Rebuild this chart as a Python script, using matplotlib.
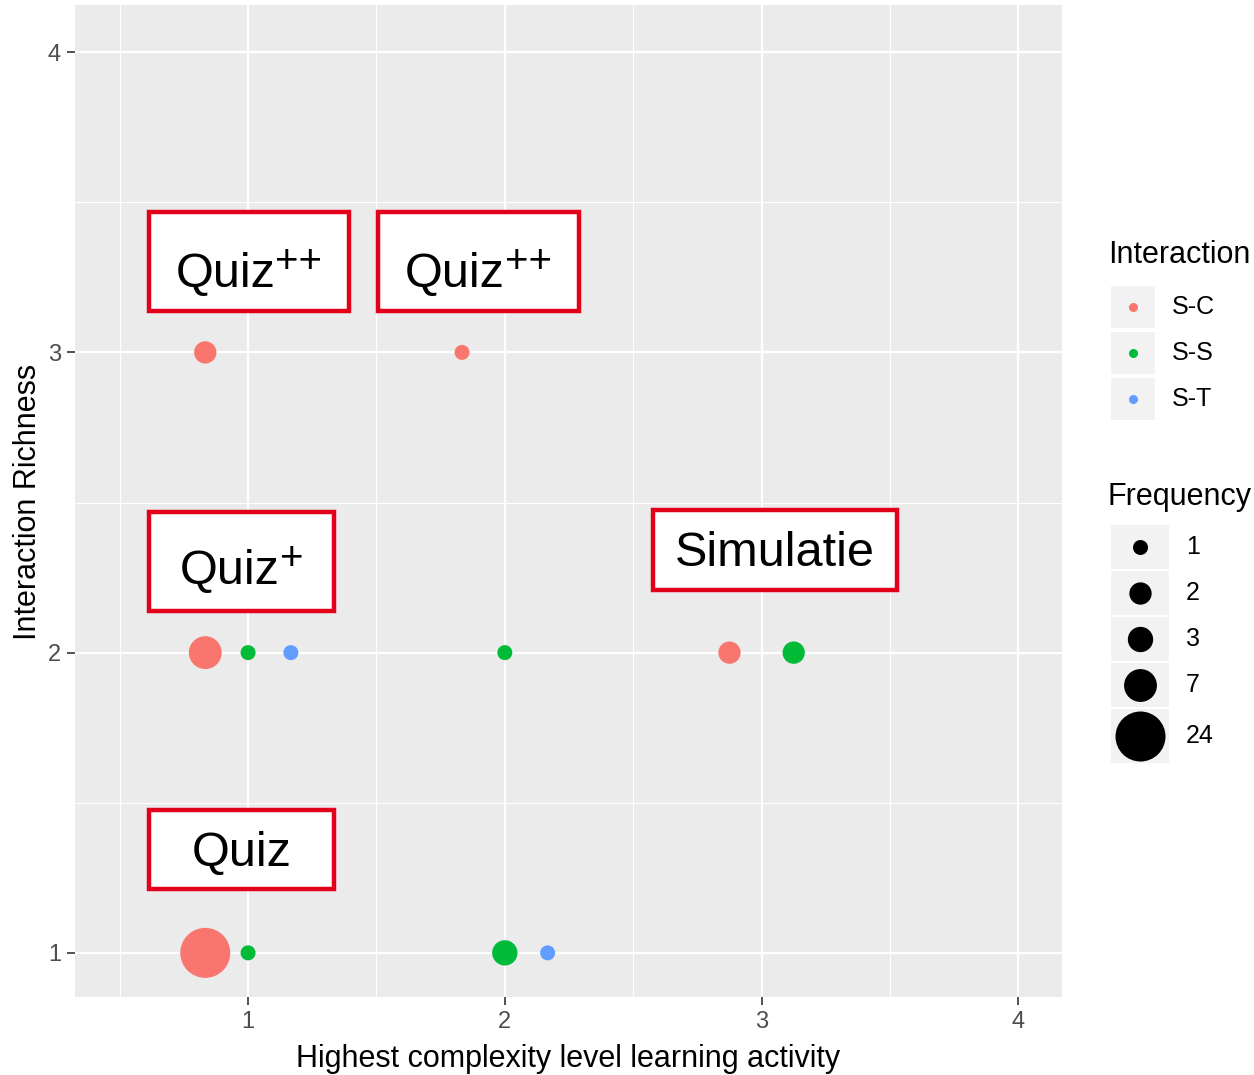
import numpy as np
import matplotlib

matplotlib.use("Agg")
import matplotlib.pyplot as plt
from matplotlib.patches import Rectangle

plt.rcParams["font.family"] = ["Liberation Sans", "DejaVu Sans"]

# data
complexity = [1, 1, 2, 2, 1, 1, 1, 2, 3, 3, 1, 2]
richness = [1, 1, 1, 1, 2, 2, 2, 2, 2, 2, 3, 3]
interaction = ["S-C", "S-S", "S-S", "S-T", "S-C", "S-S", "S-T", "S-S", "S-C", "S-S", "S-C", "S-C"]
frequency = [24, 1, 3, 1, 7, 1, 1, 1, 2, 2, 2, 1]

interaction_levels = ["S-C", "S-S", "S-T"]
frequency_levels = [1, 2, 3, 7, 24]
colors = {"S-C": "#F8766D", "S-S": "#00BA38", "S-T": "#619CFF"}

# annotation boxes: text, superscript, (x, y, w, h) in axes fraction
labels = ["Quiz", "Quiz", "Quiz", "Simulatie", "Quiz"]
label_sup = ["++", "++", "+", "", ""]
label_boxes = [
    (0.075, 0.6915, 0.2026, 0.0998),
    (0.307, 0.6915, 0.2036, 0.0998),
    (0.075, 0.3891, 0.1874, 0.0998),
    (0.5856, 0.4103, 0.2472, 0.0806),
    (0.075, 0.1089, 0.1874, 0.0796),
]
label_baseline = [0.24, 0.24, 0.27, 0.30, 0.29]

W, H = 1254, 1075
PX = 0.72  # points per pixel at dpi 100


def diam_px(f):
    # ggplot-like area scale, range 1..6
    size = 1 + 5 * np.sqrt((f - 1) / (max(frequency_levels) - 1))
    return 8 + 7 * size


def dodge(xs, groups, width=0.5):
    # position_dodge as in ggplot: groups present at each x share the width
    out = []
    for x, g in zip(xs, groups):
        present = sorted(set(gg for xx, gg in zip(xs, groups) if xx == x),
                         key=interaction_levels.index)
        n = len(present)
        i = present.index(g)
        out.append(x + (i - (n - 1) / 2) * width / n)
    return out


fig = plt.figure(figsize=(W / 100, H / 100), dpi=100)
ax = fig.add_axes([75 / W, 1 - 997 / H, 987 / W, 992 / H])
ax.set_facecolor("#EBEBEB")

xd = dodge(complexity, interaction)
sizes = [(diam_px(f) * PX) ** 2 for f in frequency]
cols = [colors[i] for i in interaction]
ax.scatter(xd, richness, s=sizes, c=cols, linewidths=0, zorder=3)

ax.set_xlim(0.326, 4.17)
ax.set_ylim(0.853, 4.157)
ax.set_xticks([1, 2, 3, 4])
ax.set_yticks([1, 2, 3, 4])
ax.set_xticks([0.5, 1.5, 2.5, 3.5], minor=True)
ax.set_yticks([1.5, 2.5, 3.5], minor=True)
ax.grid(which="major", color="white", linewidth=1.6, zorder=0)
ax.grid(which="minor", color="white", linewidth=0.8, zorder=0)
ax.set_axisbelow(True)
for sp in ax.spines.values():
    sp.set_visible(False)
ax.tick_params(which="major", length=6, width=1.2, color="#333333",
               labelsize=17, labelcolor="#4D4D4D", pad=4)
ax.tick_params(which="minor", length=0)

ax.set_xlabel("Highest complexity level learning activity", fontsize=22)
ax.set_ylabel("Interaction Richness", fontsize=22)
ax.xaxis.set_label_coords(0.5, -0.047)
ax.yaxis.set_label_coords(-0.032, 0.499)

# label boxes, superscript set as a second, smaller text raised above the baseline
renderer = fig.canvas.get_renderer()
to_axes = ax.transAxes.inverted()
for lab, sup, (bx, by, bw, bh), bl in zip(labels, label_sup, label_boxes, label_baseline):
    ax.add_patch(Rectangle((bx, by), bw, bh, transform=ax.transAxes,
                           facecolor="white", edgecolor="#E2001A",
                           linewidth=3.2, zorder=5))
    t = ax.text(0, 0, lab, transform=ax.transAxes, ha="left", va="baseline",
                fontsize=35, color="black", zorder=6)
    w_main = t.get_window_extent(renderer).width
    w_sup = 0
    if sup:
        ts = ax.text(0, 0, sup, transform=ax.transAxes, ha="left",
                     va="baseline", fontsize=29, color="black", zorder=6)
        w_sup = ts.get_window_extent(renderer).width
    cx, cy = ax.transAxes.transform((bx + bw / 2, by + bl * bh))
    x0 = cx - (w_main + w_sup) / 2
    t.set_position(to_axes.transform((x0, cy)))
    if sup:
        ts.set_position(to_axes.transform((x0 + w_main, cy + 14)))

# legends drawn in pixel space
lg = fig.add_axes([0, 0, 1, 1])
lg.set_xlim(0, W)
lg.set_ylim(H, 0)
lg.axis("off")
lg.patch.set_alpha(0)

lg.text(1108, 255, "Interaction", fontsize=22, va="center", ha="left")
for k, lev in enumerate(interaction_levels):
    cy = 307 + k * 46
    lg.add_patch(Rectangle((1110, cy - 22), 46, 44, facecolor="#F2F2F2",
                           edgecolor="white", linewidth=1.5))
    lg.scatter([1133], [cy], s=(diam_px(1) * 0.6 * PX) ** 2,
               c=colors[lev], linewidths=0)
    lg.text(1172, cy, lev, fontsize=18, va="center", ha="left")

lg.text(1108, 497, "Frequency", fontsize=22, va="center", ha="left")
cy = 524
for f in frequency_levels:
    h = max(46, diam_px(f) + 6)
    c = cy + h / 2
    lg.add_patch(Rectangle((1110, cy), 60, h, facecolor="#F2F2F2",
                           edgecolor="white", linewidth=1.5))
    lg.scatter([1140], [c], s=(diam_px(f) * PX) ** 2, c="black",
               linewidths=0)
    lg.text(1186, c, str(f), fontsize=18, va="center", ha="left")
    cy += h

fig.savefig("out.png", dpi=100)
plt.close(fig)
